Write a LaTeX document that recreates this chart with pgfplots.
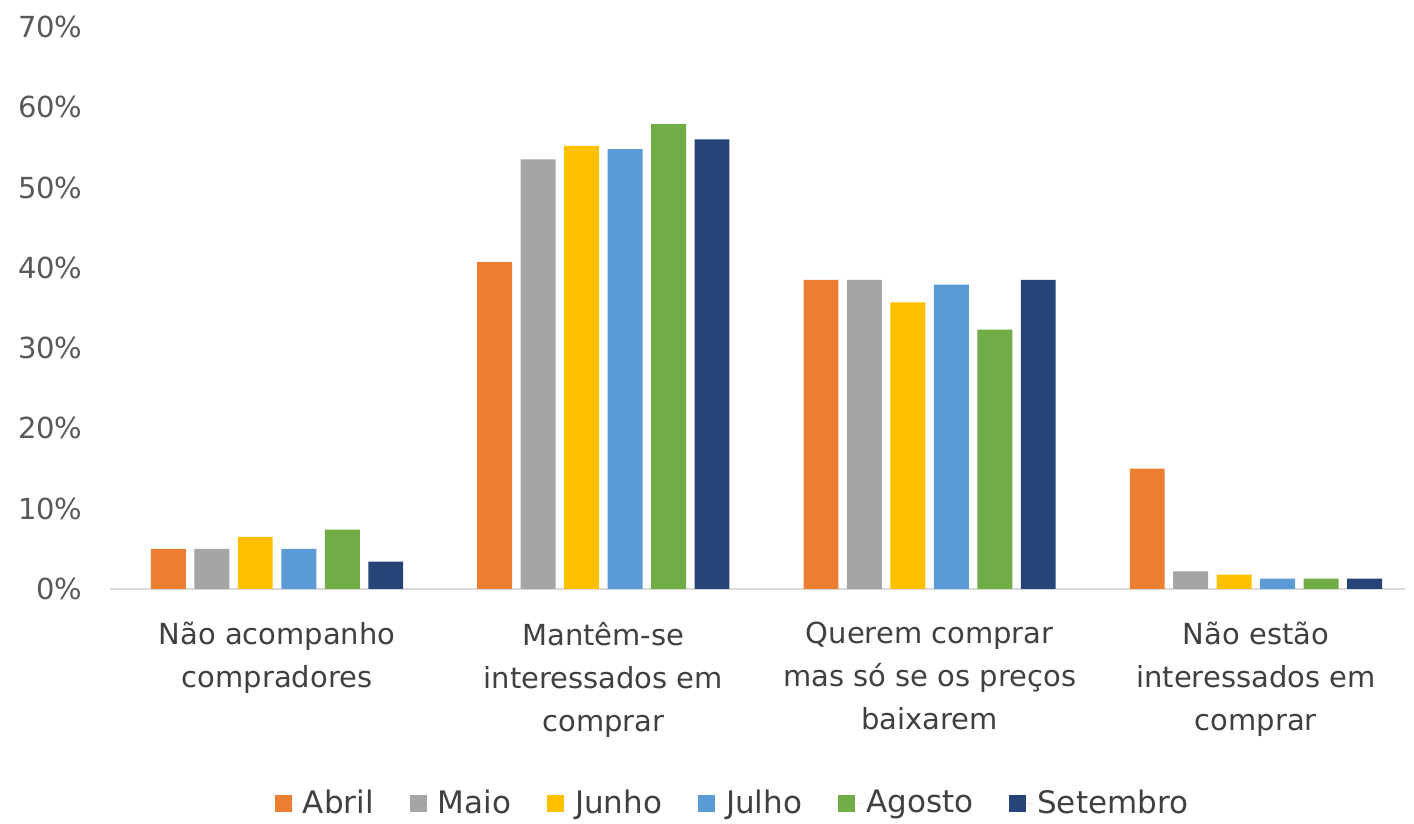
\documentclass[border=0pt]{standalone}
\usepackage{pgfplots}
\pgfplotsset{compat=1.18}
\usepackage{fontspec}
\setmainfont{DejaVu Sans}
\definecolor{cAbril}{HTML}{ED7D31}
\definecolor{cMaio}{HTML}{A5A5A5}
\definecolor{cJunho}{HTML}{FFC000}
\definecolor{cJulho}{HTML}{5B9BD5}
\definecolor{cAgosto}{HTML}{70AD47}
\definecolor{cSetembro}{HTML}{264478}
\definecolor{tickgray}{HTML}{595959}
\definecolor{labgray}{HTML}{404040}
\definecolor{axisgray}{HTML}{D9D9D9}
\begin{document}
\begin{tikzpicture}
\useasboundingbox (-55pt,-117.5pt) rectangle (652pt,294.5pt);
\begin{axis}[
  at={(0,0)}, anchor=south west,
  scale only axis,
  width=647.5pt, height=281pt,
  xmin=-0.512, xmax=3.457,
  ymin=0, ymax=70,
  ytick={0,10,20,30,40,50,60,70},
  yticklabel={\pgfmathprintnumber{\tick}\%},
  /pgf/number format/assume math mode=true,
  xtick={0,1,2,3},
  xticklabels={{Não acompanho\\compradores},{Mantêm-se\\interessados em\\comprar},{Querem comprar\\mas só se os preços\\baixarem},{Não estão\\interessados em\\comprar}},
  xticklabel style={align=center, font=\fontsize{14.5}{21.5}\selectfont, text=labgray, yshift=-13pt},
  yticklabel style={font=\fontsize{14.5}{17}\selectfont, text=tickgray, xshift=-10.2pt},
  major tick length=0pt,
  axis x line*=bottom, axis y line*=left,
  axis line style={-},
  x axis line style={draw=axisgray, line width=1.2pt},
  y axis line style={draw=none},
  ybar, bar width=0.107,
  clip=false,
  legend columns=6,
  legend style={draw=none, at={(0.4815,-0.381)}, anchor=center,
    font=\fontsize{15.5}{18}\selectfont, text=labgray,
    /tikz/every even column/.append style={column sep=16pt}},
  legend image code/.code={\fill[#1] (0pt,-4.25pt) rectangle (8.5pt,4.25pt); \path (0pt,0pt) -- (12pt,0pt);},
]
\addplot[fill=cAbril, draw=none, bar shift=-0.333] coordinates {(0,5.0) (1,40.7) (2,38.5) (3,15.0)};
\addplot[fill=cMaio, draw=none, bar shift=-0.2] coordinates {(0,5.0) (1,53.5) (2,38.5) (3,2.2)};
\addplot[fill=cJunho, draw=none, bar shift=-0.0667] coordinates {(0,6.5) (1,55.2) (2,35.7) (3,1.8)};
\addplot[fill=cJulho, draw=none, bar shift=0.0667] coordinates {(0,5.0) (1,54.8) (2,37.9) (3,1.3)};
\addplot[fill=cAgosto, draw=none, bar shift=0.2] coordinates {(0,7.4) (1,57.9) (2,32.3) (3,1.3)};
\addplot[fill=cSetembro, draw=none, bar shift=0.333] coordinates {(0,3.4) (1,56.0) (2,38.5) (3,1.3)};
\legend{Abril,Maio,Junho,Julho,Agosto,Setembro}
\end{axis}
\end{tikzpicture}
\end{document}
